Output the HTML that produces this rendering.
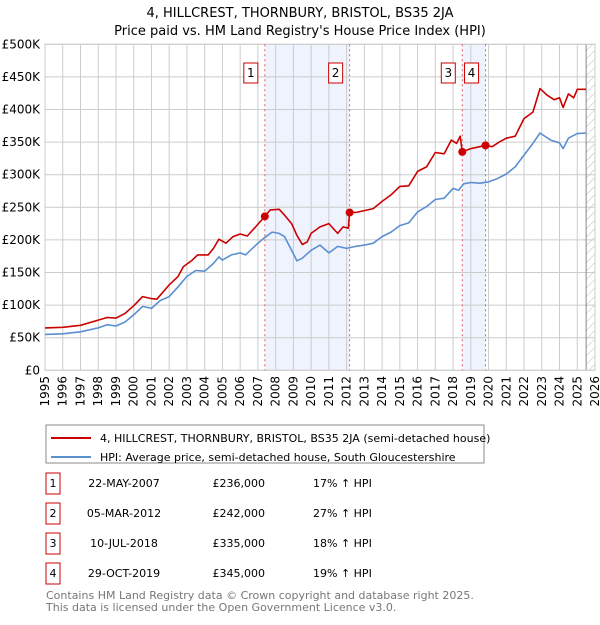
<!DOCTYPE html>
<html><head><meta charset="utf-8"><style>
body{margin:0;background:#fff;font-family:"Liberation Sans","DejaVu Sans",sans-serif;}
svg text{font-family:"DejaVu Sans","Liberation Sans",sans-serif;}
</style></head><body>
<svg id="c" width="600" height="620" xmlns="http://www.w3.org/2000/svg">
<defs><pattern id="hatch" width="6" height="6" patternUnits="userSpaceOnUse" patternTransform="rotate(45)"><line x1="0" y1="0" x2="0" y2="6" stroke="#bbb" stroke-width="1"/></pattern></defs>
<text x="300" y="17" text-anchor="middle" font-size="13">4, HILLCREST, THORNBURY, BRISTOL, BS35 2JA</text>
<text x="300" y="35" text-anchor="middle" font-size="13">Price paid vs. HM Land Registry's House Price Index (HPI)</text>
<g id="plot"></g>
<rect x="46" y="425" width="438" height="38" fill="#fff" stroke="#888"/>
<line x1="51" y1="438" x2="91" y2="438" stroke="#cc0000" stroke-width="2"/>
<text x="100" y="442" font-size="11">4, HILLCREST, THORNBURY, BRISTOL, BS35 2JA (semi-detached house)</text>
<line x1="51" y1="457" x2="91" y2="457" stroke="#5b8fd0" stroke-width="2"/>
<text x="100" y="461" font-size="11">HPI: Average price, semi-detached house, South Gloucestershire</text>
<g id="table" font-size="11"></g>
<text x="46" y="599" font-size="11" fill="#777">Contains HM Land Registry data © Crown copyright and database right 2025.</text>
<text x="46" y="611" font-size="11" fill="#777">This data is licensed under the Open Government Licence v3.0.</text>
</svg>
<script>
const hpiYears=[1995,1996,1997,1998,1998.5,1999,1999.5,2000,2000.5,2001,2001.5,2002,2002.5,2003,2003.5,2004,2004.5,2004.8,2005,2005.5,2006,2006.3,2007,2007.4,2007.8,2008.2,2008.5,2008.9,2009.2,2009.5,2010,2010.5,2011,2011.5,2012,2012.5,2013,2013.5,2014,2014.5,2015,2015.5,2016,2016.5,2017,2017.5,2018,2018.3,2018.6,2019,2019.5,2020,2020.5,2021,2021.5,2022,2022.5,2022.9,2023.5,2024,2024.2,2024.5,2025,2025.5];
const hpiValues=[55,56,59,65,70,68,74,85,98,95,107,113,128,144,153,152,164,174,169,177,180,177,195,204,212,210,205,184,168,172,184,192,180,190,187,190,192,195,205,212,222,226,243,251,262,264,279,276,286,288,287,289,294,301,312,330,348,364,353,349,340,356,363,364];
const propYears=[1995,1996,1997,1998,1998.5,1999,1999.5,2000,2000.5,2001,2001.3,2002,2002.5,2002.8,2003.3,2003.6,2004.2,2004.5,2004.8,2005.2,2005.6,2006,2006.4,2006.8,2007.39,2007.7,2008.2,2008.5,2008.9,2009.2,2009.5,2009.78,2010,2010.5,2011,2011.5,2011.8,2012.1,2012.17,2012.5,2013,2013.5,2014,2014.5,2015,2015.5,2016,2016.5,2017,2017.5,2017.9,2018.2,2018.4,2018.52,2019,2019.5,2019.83,2020.2,2020.6,2021,2021.5,2022,2022.5,2022.9,2023.3,2023.7,2024,2024.2,2024.5,2024.8,2025,2025.5];
const propValues=[65,66,69,77,81,80,87,99,113,110,109,131,144,159,169,177,177,187,201,195,205,209,206,218,236,246,247,238,225,207,193,197,210,220,225,210,220,218,243,242,245,248,259,269,282,283,305,312,334,332,353,348,359,335,340,343,345,343,350,356,359,386,396,432,422,415,418,403,424,418,431,431];
const saleLabels=["1","2","3","4"];
const saleYears=[2007.39,2012.17,2018.52,2019.83];
const saleValues=[236,242,335,345];
const saleDates=["22-MAY-2007","05-MAR-2012","10-JUL-2018","29-OCT-2019"];
const salePrices=["£236,000","£242,000","£335,000","£345,000"];
const saleHpi=["17% ↑ HPI","27% ↑ HPI","18% ↑ HPI","19% ↑ HPI"];
const yTicks=[0,50,100,150,200,250,300,350,400,450,500];
const yTickLabels=["£0","£50K","£100K","£150K","£200K","£250K","£300K","£350K","£400K","£450K","£500K"];
const xTicks=[1995,1996,1997,1998,1999,2000,2001,2002,2003,2004,2005,2006,2007,2008,2009,2010,2011,2012,2013,2014,2015,2016,2017,2018,2019,2020,2021,2022,2023,2024,2025,2026];

const X0=45,X1=595,Y0=370.3,Y1=44.3;
const xs=y=>X0+(y-1995)/(2026-1995)*(X1-X0);
const ys=v=>Y0-v/500*(Y0-Y1);
const NS="http://www.w3.org/2000/svg";
const plot=document.getElementById('plot');
function mk(tag,attrs,parent){const e=document.createElementNS(NS,tag);for(const k in attrs)e.setAttribute(k,attrs[k]);(parent||plot).appendChild(e);return e;}

let bg=mk('rect',{x:X0,y:Y1,width:X1-X0,height:Y0-Y1,fill:'#fff'});


for(let i=0;i<saleYears.length;i+=2){
  const b=mk('rect',{x:xs(saleYears[i]),y:Y1,width:xs(saleYears[i+1])-xs(saleYears[i]),height:Y0-Y1,fill:'#eef3fd'});
  
  
}
const hx=xs(2025.5);
const h=mk('rect',{x:hx,y:Y1,width:X1-hx,height:Y0-Y1,fill:'url(#hatch)'});


yTicks.forEach((t,i)=>{
  const l=mk('line',{x1:X0,x2:X1,y1:ys(t),y2:ys(t),stroke:'#ccc','stroke-width':1});
  
  
  const tx=mk('text',{x:40,y:ys(t)+4,'text-anchor':'end','font-size':12});
  tx.textContent=yTickLabels[i];
  
  
});
xTicks.forEach(t=>{
  const l=mk('line',{x1:xs(t),x2:xs(t),y1:Y1,y2:Y0,stroke:'#ccc','stroke-width':1});
  
  
  const tx=mk('text',{x:0,y:0,'text-anchor':'end','font-size':12,transform:`translate(${xs(t)+4},376) rotate(-90)`});
  tx.textContent=t;
  
  
});
const hl=mk('line',{x1:hx,x2:hx,y1:Y1,y2:Y0,stroke:'#888','stroke-width':1});


const fr=mk('rect',{x:X0,y:Y1,width:X1-X0,height:Y0-Y1,fill:'none',stroke:'#ccc'});


saleYears.forEach((s,i)=>{
  const l=mk('line',{x1:xs(s),x2:xs(s),y1:Y1,y2:Y0,stroke:'#e06060','stroke-width':1,'stroke-dasharray':'2,3'});
  
  
  const r=mk('rect',{x:xs(s)-21,y:63,width:14,height:20,fill:'#fff',stroke:'#cc0000'});
  
  
  const t=mk('text',{x:xs(s)-14,y:77,'text-anchor':'middle','font-size':12});
  t.textContent=saleLabels[i];
  
  
});
function line(xa,va,color,name){
  const d=xa.map((x,i)=>(i?'L':'M')+xs(x).toFixed(1)+','+ys(va[i]).toFixed(1)).join('');
  const p=mk('path',{d:d,fill:'none',stroke:color,'stroke-width':1.6,'stroke-linejoin':'round'});
  
  
}
line(hpiYears,hpiValues,'#5b8fd0','hpi-line');
line(propYears,propValues,'#cc0000','property-line');
saleYears.forEach((s,i)=>{
  const c=mk('circle',{cx:xs(s),cy:ys(saleValues[i]),r:4,fill:'#cc0000'});
  
  
});
const tb=document.getElementById('table');
const rowY=[483,513,543,573];
saleLabels.forEach((l,i)=>{
  const y=rowY[i];
  const r=mk('rect',{x:46,y:y-10,width:14,height:21,fill:'#fff',stroke:'#cc0000'},tb);
  
  
  const cols=[[53,l,'middle'],[124,saleDates[i],'middle'],[265,salePrices[i],'end'],[313,saleHpi[i],'start']];
  cols.forEach(([x,txt,a],j)=>{
    const t=mk('text',{x:x,y:y+4,'text-anchor':a},tb);
    t.textContent=txt;
    
    
  });
});
</script>
</body></html>
